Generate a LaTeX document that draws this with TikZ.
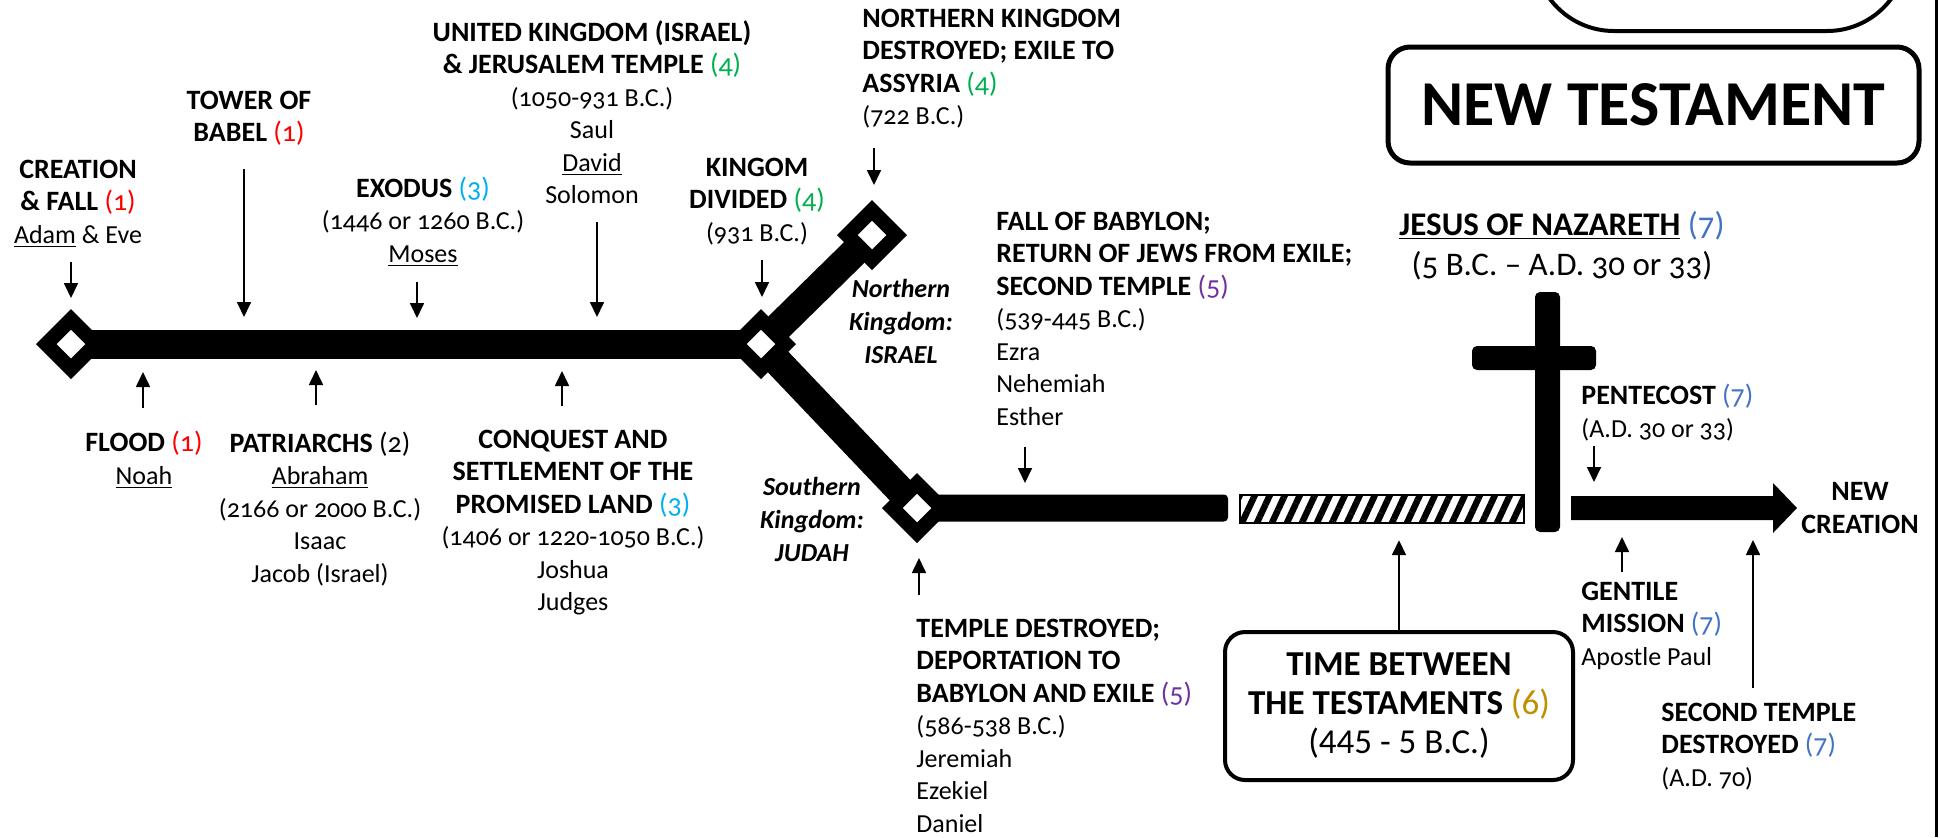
\documentclass[tikz,border=0pt]{standalone}
\usepackage{fontspec}
\setmainfont{Carlito}[Numbers=OldStyle]
\usepackage{tikz}
\usetikzlibrary{arrows.meta,positioning,calc,shapes.geometric,patterns.meta}

\definecolor{numred}{HTML}{FF0000}
\definecolor{numcyan}{HTML}{00B0F0}
\definecolor{numgreen}{HTML}{00B050}
\definecolor{numpurple}{HTML}{7030A0}
\definecolor{numgold}{HTML}{BF8F00}
\definecolor{numblue}{HTML}{4472C4}
\newcommand{\bk}[2]{\textcolor{#1}{\mdseries(#2)}}
\newcommand{\hd}[1]{{\fontsize{14}{16.25}\selectfont\bfseries #1}}

\tikzset{
  >=Stealth,
  every node/.append style={inner sep=0pt},
}

\begin{document}
\begin{tikzpicture}[
  x=0.5pt, y=-0.5pt,
  evtxt/.style={font=\fontsize{13}{16.25}\selectfont, anchor=base},
  evc/.style={evtxt, align=center},
  evl/.style={evtxt, align=left, anchor=base west},
  kingdom/.style={evc, font=\fontsize{13}{16.5}\selectfont\bfseries\itshape},
  evarrow/.style={-{Triangle[width=7pt,length=7.5pt]}, line width=0.85pt},
  trunk/.style={line width=14.5pt},
  junction/.style={diamond, aspect=1, draw=black, fill=white, line width=7.25pt, minimum width=27.75pt, minimum height=27.75pt, inner sep=0pt},
  hatchbar/.style={rectangle, draw=black, line width=0.75pt, minimum width=142pt, minimum height=14pt, pattern={Lines[angle=65,distance=6.8pt,line width=3.2pt]}},
  periodbox/.style={rectangle, draw=black, line width=2pt, rounded corners=10pt, align=center, minimum width=174pt, minimum height=74pt, font=\fontsize{17.5}{19.5}\selectfont\addfontfeatures{Numbers=Lining}},
  titlebox/.style={rectangle, draw=black, line width=2.5pt, rounded corners=11pt, minimum width=265.5pt, minimum height=58pt, font=\fontsize{32}{38}\selectfont\bfseries}
]
\useasboundingbox (0,0) rectangle (1940,837);
\clip (0,0) rectangle (1940,837);

% Branch points of the line
\coordinate (creationpt) at (71,344);
\coordinate (dividedpt) at (761,344);
\coordinate (israelpt) at (872,235);
\coordinate (judahpt) at (917,508);

% Old Testament line and the two kingdoms
\draw[trunk] (creationpt) -- (dividedpt);
\draw[trunk] (dividedpt) -- (israelpt);
\draw[trunk] (dividedpt) -- (judahpt);
\fill[rounded corners=2pt] ($(judahpt)+(0,-13.5)$) rectangle (1228,521.5);

\node[junction] (creation) at (creationpt) {};
\node[junction] (divided) at (dividedpt) {};
\node[junction] (israel) at (israelpt) {};
\node[junction] (judah) at (judahpt) {};

% Time between the testaments
\node[hatchbar] (between) at (1382,509) {};

% Cross
\fill[rounded corners=2.5pt] (1535,292) rectangle (1560,532);
\fill[rounded corners=2.5pt] (1472,346) rectangle (1596,370);

% New Testament arrow
\coordinate (ntTip) at (1797,508);
\fill (1571,496) -- (1773,496) -- (1773,483) -- (ntTip) -- (1773,533) -- (1773,520) -- (1571,520) -- cycle;
\node[evc, align=center, right=2pt of ntTip, anchor=west] (newcreation) {\hd{NEW}\\\hd{CREATION}};

% Boxes
\draw[line width=2pt, rounded corners=40pt] (1534,-150) rectangle (1907,31);
\node[titlebox] (ntbox) at (1653.5,105) {NEW TESTAMENT};
\node[periodbox] (tbt) at (1399,706) {\textbf{TIME BETWEEN}\\\textbf{THE TESTAMENTS} \bk{numgold}{6}\\(445 - 5 B.C.)};
\draw[line width=1.5pt] (1936,0) -- (1936,837);

% Events above the line (anchored at the last line)
\node[evc] (creationlbl) at (78,243) {\hd{CREATION}\\\hd{\& FALL \bk{numred}{1}}\\\underline{Adam} \& Eve};
\node[evc] (babel) at (249,141.5) {\hd{TOWER OF}\\\hd{BABEL \bk{numred}{1}}};
\node[evc] (exodus) at (423,262) {\hd{EXODUS \bk{numcyan}{3}}\\(1446 or 1260 B.C.)\\\underline{Moses}};
\node[evc] (united) at (592,203.5) {\hd{UNITED KINGDOM (ISRAEL)}\\\hd{\& JERUSALEM TEMPLE \bk{numgreen}{4}}\\(1050-931 B.C.)\\Saul\\\underline{David}\\Solomon};
\node[evc] (dividedlbl) at (757,241) {\hd{KINGOM}\\\hd{DIVIDED \bk{numgreen}{4}}\\(931 B.C.)};
\node[evl] (assyria) at (862,124.5) {\hd{NORTHERN KINGDOM}\\\hd{DESTROYED; EXILE TO}\\\hd{ASSYRIA \bk{numgreen}{4}}\\(722 B.C.)};
\node[evl] (babylon) at (996,425) {\hd{FALL OF BABYLON;}\\\hd{RETURN OF JEWS FROM EXILE;}\\\hd{SECOND TEMPLE \bk{numpurple}{5}}\\(539-445 B.C.)\\Ezra\\Nehemiah\\Esther};
\node[evc, font=\fontsize{16.5}{20}\selectfont] (jesus) at (1562,275) {\textbf{\underline{JESUS OF NAZARETH}} \bk{numblue}{7}\\(5 B.C. – A.D. 30 or 33)};
\node[evl] (pentecost) at (1581,437) {\hd{PENTECOST \bk{numblue}{7}}\\(A.D. 30 or 33)};

% Kingdom names
\node[kingdom] (israellbl) at (901,363) {Northern\\Kingdom:\\ISRAEL};
\node[kingdom] (judahlbl) at (812,561) {Southern\\Kingdom:\\JUDAH};

% Events below the line
\node[evc] (flood) at (144,484) {\hd{FLOOD \bk{numred}{1}}\\\underline{Noah}};
\node[evc] (patriarchs) at (320,582) {\hd{PATRIARCHS \bk{black}{2}}\\\underline{Abraham}\\(2166 or 2000 B.C.)\\Isaac\\Jacob (Israel)};
\node[evc] (conquest) at (573,610.5) {\hd{CONQUEST AND}\\\hd{SETTLEMENT OF THE}\\\hd{PROMISED LAND \bk{numcyan}{3}}\\(1406 or 1220-1050 B.C.)\\Joshua\\Judges};
\node[evl] (exile) at (916,832) {\hd{TEMPLE DESTROYED;}\\\hd{DEPORTATION TO}\\\hd{BABYLON AND EXILE \bk{numpurple}{5}}\\(586-538 B.C.)\\Jeremiah\\Ezekiel\\Daniel};
\node[evl] (gentile) at (1581,665) {\hd{GENTILE}\\\hd{MISSION \bk{numblue}{7}}\\Apostle Paul};
\node[evl] (secondtemple) at (1661,786) {\hd{SECOND TEMPLE}\\\hd{DESTROYED \bk{numblue}{7}}\\(A.D. 70)};

% Arrows to the line
\foreach \nm/\x/\ya/\yb in {creation/71/262/298, babel/244/169/317, exodus/417/282/318,
    solomon/597/222/317, divided/762/260/297, assyria/874/148/185, babylon/1025/447/483,
    pentecost/1594/446/482, flood/143/408/372, patriarchs/316/405/370, conquest/562/406/371,
    exile/919/595/558, gentile/1622/572/537, secondtemple/1753/688/540} {
  \coordinate (\nm-tail) at (\x,\ya);
  \coordinate (\nm-tip) at (\x,\yb);
}
\foreach \nm in {creation,babel,exodus,solomon,divided,assyria,babylon,pentecost,
    flood,patriarchs,conquest,exile,gentile,secondtemple}
  \draw[evarrow] (\nm-tail) -- (\nm-tip);
\coordinate (between-tip) at ($(tbt.north |- between.south)+(0,14)$);
\draw[evarrow] (tbt.north) -- (between-tip);

\end{tikzpicture}
\end{document}
